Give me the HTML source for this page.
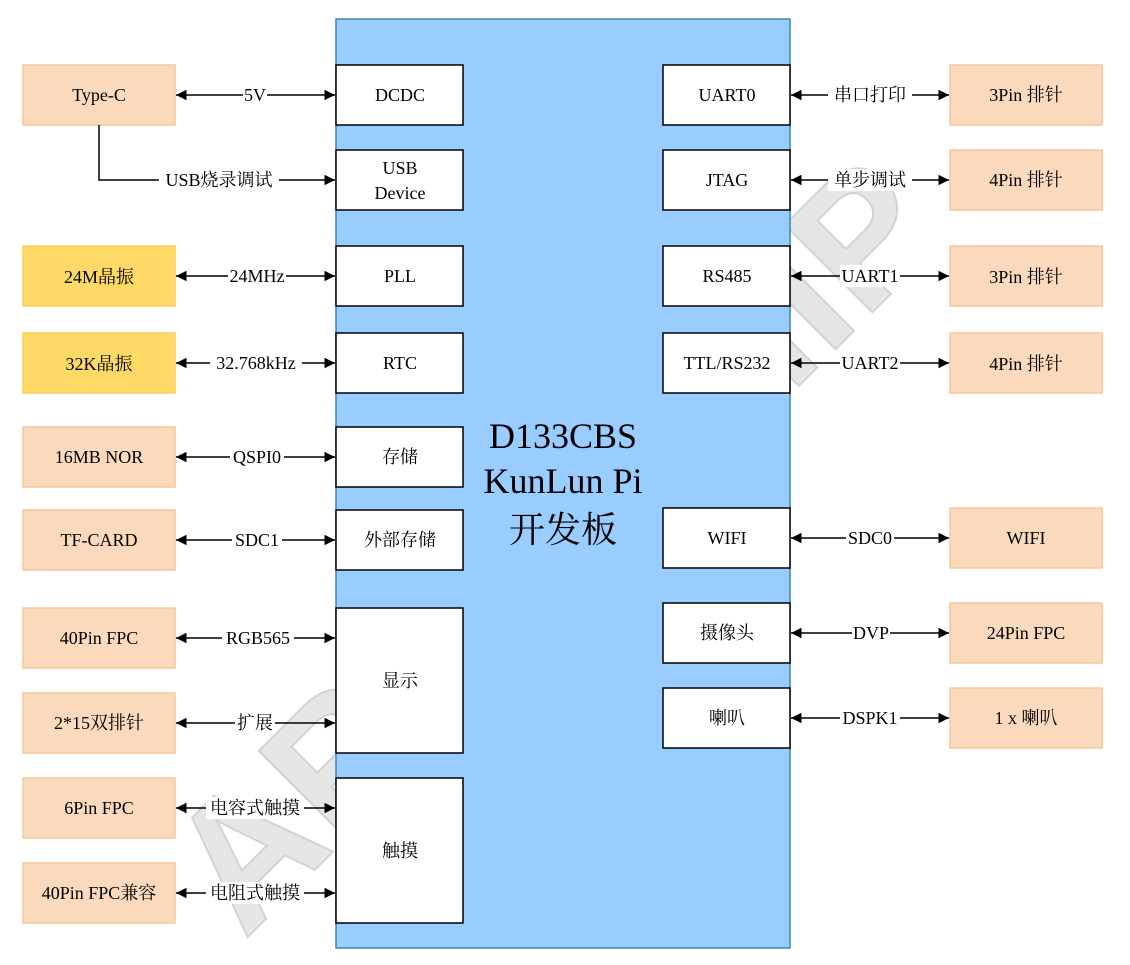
<!DOCTYPE html>
<html><head><meta charset="utf-8"><style>
html,body{margin:0;padding:0;background:#fff;width:1130px;height:965px;overflow:hidden;}
svg{display:block}
text{font-family:"Liberation Serif","Noto Serif CJK SC",serif;font-size:18px;fill:#000;}
</style></head><body>
<svg width="1130" height="965" viewBox="0 0 1130 965" xmlns="http://www.w3.org/2000/svg">
<defs>
<marker id="a" viewBox="0 0 10 10" refX="10" refY="5" markerWidth="7" markerHeight="7" orient="auto-start-reverse"><path d="M0,0 L10,5 L0,10 Z" fill="#000"/></marker>
</defs>
<g transform="translate(555,545) rotate(-45)">
<text x="0" y="60" text-anchor="middle" style="font-family:'Liberation Sans',sans-serif;font-size:180px;font-weight:bold;fill:#e6e6e6;stroke:#d2d2d2;stroke-width:2;letter-spacing:2px">ARTINCHIP</text>
</g>
<rect x="336" y="19" width="454" height="929" fill="#99ccff" stroke="#3a87ad" stroke-width="1.5"/>
<g text-anchor="middle">
<text x="563" y="448" style="font-size:36px">D133CBS</text>
<text x="563" y="493" style="font-size:36px">KunLun Pi</text>
<text x="563" y="542" style="font-size:36px">开发板</text>
</g>
<g stroke="#000" stroke-width="1.5" fill="#fff">
<rect x="336" y="65" width="127" height="60"/><rect x="336" y="150" width="127" height="60"/>
<rect x="336" y="246" width="127" height="60"/><rect x="336" y="333" width="127" height="60"/>
<rect x="336" y="427" width="127" height="60"/><rect x="336" y="510" width="127" height="60"/>
<rect x="336" y="608" width="127" height="145"/><rect x="336" y="778" width="127" height="145"/>
<rect x="663" y="65" width="127" height="60"/><rect x="663" y="150" width="127" height="60"/>
<rect x="663" y="246" width="127" height="60"/><rect x="663" y="333" width="127" height="60"/>
<rect x="663" y="508" width="127" height="60"/><rect x="663" y="603" width="127" height="60"/>
<rect x="663" y="688" width="127" height="60"/>
</g>
<g stroke="#f8c79a" stroke-width="1.5" fill="#fad9bd">
<rect x="23" y="65" width="152" height="60"/>
<rect x="23" y="427" width="152" height="60"/><rect x="23" y="510" width="152" height="60"/>
<rect x="23" y="608" width="152" height="60"/><rect x="23" y="693" width="152" height="60"/>
<rect x="23" y="778" width="152" height="60"/><rect x="23" y="863" width="152" height="60"/>
<rect x="950" y="65" width="152" height="60"/><rect x="950" y="150" width="152" height="60"/>
<rect x="950" y="246" width="152" height="60"/><rect x="950" y="333" width="152" height="60"/>
<rect x="950" y="508" width="152" height="60"/><rect x="950" y="603" width="152" height="60"/>
<rect x="950" y="688" width="152" height="60"/>
</g>
<g stroke="#f5cf60" stroke-width="1.5" fill="#ffd966">
<rect x="23" y="246" width="152" height="60"/><rect x="23" y="333" width="152" height="60"/>
</g>
<g stroke="#000" stroke-width="1.5" fill="none">
<line x1="176" y1="95" x2="335" y2="95" marker-start="url(#a)" marker-end="url(#a)"/>
<polyline points="99,125 99,180 335,180" marker-end="url(#a)"/>
<line x1="176" y1="276" x2="335" y2="276" marker-start="url(#a)" marker-end="url(#a)"/>
<line x1="176" y1="363" x2="335" y2="363" marker-start="url(#a)" marker-end="url(#a)"/>
<line x1="176" y1="457" x2="335" y2="457" marker-start="url(#a)" marker-end="url(#a)"/>
<line x1="176" y1="540" x2="335" y2="540" marker-start="url(#a)" marker-end="url(#a)"/>
<line x1="176" y1="638" x2="335" y2="638" marker-start="url(#a)" marker-end="url(#a)"/>
<line x1="176" y1="723" x2="335" y2="723" marker-start="url(#a)" marker-end="url(#a)"/>
<line x1="176" y1="808" x2="335" y2="808" marker-start="url(#a)" marker-end="url(#a)"/>
<line x1="176" y1="893" x2="335" y2="893" marker-start="url(#a)" marker-end="url(#a)"/>
<line x1="791" y1="95" x2="949" y2="95" marker-start="url(#a)" marker-end="url(#a)"/>
<line x1="791" y1="180" x2="949" y2="180" marker-start="url(#a)" marker-end="url(#a)"/>
<line x1="791" y1="276" x2="949" y2="276" marker-start="url(#a)" marker-end="url(#a)"/>
<line x1="791" y1="363" x2="949" y2="363" marker-start="url(#a)" marker-end="url(#a)"/>
<line x1="791" y1="538" x2="949" y2="538" marker-start="url(#a)" marker-end="url(#a)"/>
<line x1="791" y1="633" x2="949" y2="633" marker-start="url(#a)" marker-end="url(#a)"/>
<line x1="791" y1="718" x2="949" y2="718" marker-start="url(#a)" marker-end="url(#a)"/>
</g>
<g fill="#fff">
<rect x="243" y="84" width="24" height="22"/><rect x="159" y="169" width="120" height="22"/>
<rect x="228" y="265" width="58" height="22"/><rect x="210" y="352" width="92" height="22"/>
<rect x="230" y="446" width="54" height="22"/><rect x="232" y="529" width="50" height="22"/>
<rect x="222" y="627" width="72" height="22"/><rect x="235" y="712" width="40" height="22"/>
<rect x="206" y="797" width="98" height="22"/><rect x="206" y="882" width="98" height="22"/>
<rect x="828" y="84" width="84" height="22"/><rect x="828" y="169" width="84" height="22"/>
<rect x="840" y="265" width="60" height="22"/><rect x="840" y="352" width="60" height="22"/>
<rect x="846" y="527" width="48" height="22"/><rect x="852" y="622" width="38" height="22"/>
<rect x="840" y="707" width="60" height="22"/>
</g>
<g text-anchor="middle">
<text x="255" y="101">5V</text><text x="219" y="186">USB烧录调试</text>
<text x="257" y="282">24MHz</text><text x="256" y="369">32.768kHz</text>
<text x="257" y="463">QSPI0</text><text x="257" y="546">SDC1</text>
<text x="258" y="644">RGB565</text><text x="255" y="729">扩展</text>
<text x="255" y="814">电容式触摸</text><text x="255" y="899">电阻式触摸</text>
<text x="870" y="101">串口打印</text><text x="870" y="186">单步调试</text>
<text x="870" y="282">UART1</text><text x="870" y="369">UART2</text>
<text x="870" y="544">SDC0</text><text x="871" y="639">DVP</text>
<text x="870" y="724">DSPK1</text>
<text x="99" y="101">Type-C</text><text x="99" y="283">24M晶振</text>
<text x="99" y="370">32K晶振</text><text x="99" y="463">16MB NOR</text>
<text x="99" y="546">TF-CARD</text><text x="99" y="644">40Pin FPC</text>
<text x="99" y="729">2*15双排针</text><text x="99" y="814">6Pin FPC</text>
<text x="99" y="899">40Pin FPC兼容</text>
<text x="1026" y="101">3Pin 排针</text><text x="1026" y="186">4Pin 排针</text>
<text x="1026" y="283">3Pin 排针</text><text x="1026" y="370">4Pin 排针</text>
<text x="1026" y="544">WIFI</text><text x="1026" y="639">24Pin FPC</text>
<text x="1026" y="724">1 x 喇叭</text>
<text x="400" y="101">DCDC</text><text x="400" y="174">USB</text><text x="400" y="199">Device</text>
<text x="400" y="282">PLL</text><text x="400" y="369">RTC</text>
<text x="400" y="463">存储</text><text x="400" y="546">外部存储</text>
<text x="400" y="687">显示</text><text x="400" y="857">触摸</text>
<text x="727" y="101">UART0</text><text x="727" y="186">JTAG</text>
<text x="727" y="282">RS485</text><text x="727" y="369">TTL/RS232</text>
<text x="727" y="544">WIFI</text><text x="727" y="639">摄像头</text>
<text x="727" y="724">喇叭</text>
</g>
</svg>
</body></html>
